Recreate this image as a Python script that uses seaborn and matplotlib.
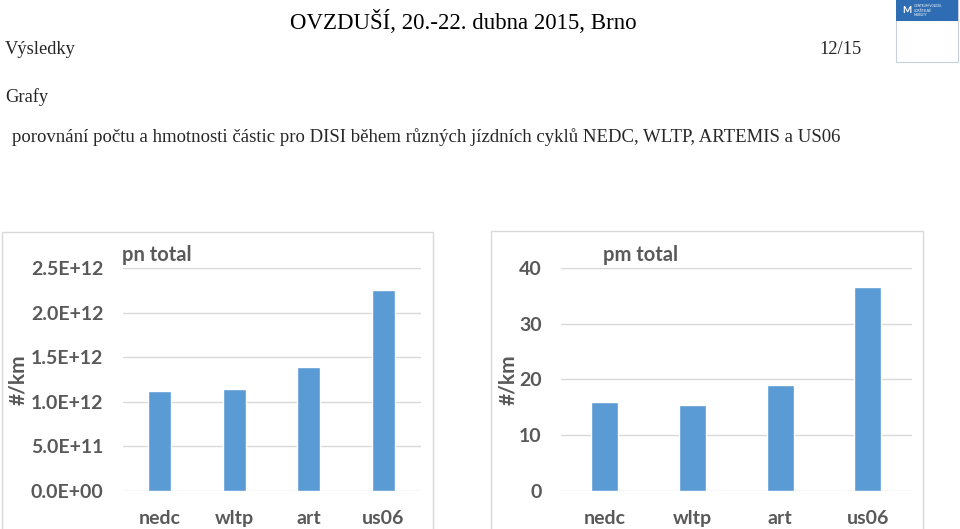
import matplotlib
matplotlib.use("Agg")
import matplotlib.pyplot as plt
import seaborn as sns
import pandas as pd
from matplotlib.patches import Rectangle
from matplotlib.ticker import FuncFormatter

categories = ["nedc", "wltp", "art", "us06"]
pn_total = [1.12e12, 1.14e12, 1.395e12, 2.255e12]
pm_total = [15.9, 15.45, 19.05, 36.6]
pn_ticks = [0, 5e11, 1e12, 1.5e12, 2e12, 2.5e12]
pm_ticks = [0, 10, 20, 30, 40]

sns.set_theme(style="white")
plt.rcParams["font.family"] = ["Lato", "DejaVu Sans"]

W, H = 960, 529
fig = plt.figure(figsize=(W / 100, H / 100), dpi=100)
fig.patch.set_facecolor("white")

def fx(px):
    return px / W

def fy(py):
    return 1 - py / H

serif = ["Liberation Serif", "DejaVu Serif"]
fig.text(fx(463), fy(22), "OVZDUŠÍ, 20.-22. dubna 2015, Brno", family=serif,
         fontsize=16.5, ha="center", va="center", color="black")
fig.text(fx(5), fy(49), "Výsledky", family=serif, fontsize=13.3, ha="left", va="center")
fig.text(fx(862), fy(49), "12/15", family=serif, fontsize=13.3, ha="right", va="center")
fig.text(fx(5), fy(97), "Grafy", family=serif, fontsize=13.3, ha="left", va="center")
fig.text(fx(12), fy(137),
         "porovnání počtu a hmotnosti částic pro DISI během různých jízdních cyklů NEDC, WLTP, ARTEMIS a US06",
         family=serif, fontsize=13.5, ha="left", va="center")

# logo
fig.patches.append(Rectangle((fx(896), fy(62)), fx(62), 62 / H, transform=fig.transFigure,
                             facecolor="white", edgecolor="#c8d0dc", lw=0.8))
fig.patches.append(Rectangle((fx(896), fy(21)), fx(62), 21 / H, transform=fig.transFigure,
                             facecolor="#2e6db4", edgecolor="none"))
fig.text(fx(907), fy(10.5), "M", fontsize=7, color="white", ha="center", va="center", weight="bold")
fig.text(fx(914), fy(10.5), "CENTRUM VOZIDEL\nUDRŽITELNÉ\nMOBILITY", fontsize=2.2, color="white",
         ha="left", va="center", linespacing=1.1)

# chart frames
for x0, x1, y0 in [(2, 433, 232), (491, 923, 231)]:
    fig.patches.append(Rectangle((fx(x0), fy(540)), fx(x1 - x0), (540 - y0) / H,
                                 transform=fig.transFigure, facecolor="none",
                                 edgecolor="#d9d9d9", lw=1.0))

bar_color = "#5b9bd5"
tick_color = "#595959"

def make_chart(left, right, vals, ticks, fmt, title, title_x, ylab_x):
    ax = fig.add_axes([fx(left), fy(490.7), fx(right - left), (490.7 - 268.3) / H])
    df = pd.DataFrame({"cycle": categories, "value": vals})
    sns.barplot(data=df, x="cycle", y="value", color=bar_color, saturation=1,
                width=0.31, ax=ax)
    ax.set_ylim(0, ticks[-1])
    ax.set_yticks(ticks)
    ax.yaxis.set_major_formatter(FuncFormatter(fmt))
    ax.grid(axis="y", color="#d9d9d9", lw=1)
    ax.set_axisbelow(True)
    for s in ax.spines.values():
        s.set_visible(False)
    ax.tick_params(axis="both", length=0, labelsize=14, colors=tick_color)
    ax.tick_params(axis="y", pad=14)
    ax.tick_params(axis="x", pad=14)
    for lab in ax.get_xticklabels() + ax.get_yticklabels():
        lab.set_fontweight("bold")
    ax.set_xlabel("")
    ax.set_ylabel("")
    ax.patch.set_alpha(0)
    fig.text(fx(title_x), fy(255), title, fontsize=14.5, color=tick_color,
             ha="left", va="center", weight="bold")
    fig.text(fx(ylab_x), fy(380), "#/km", fontsize=15, color=tick_color,
             ha="center", va="center", rotation=90, weight="bold")
    return ax

make_chart(122.7, 420.7, pn_total, pn_ticks, lambda v, p: f"{v:.1E}", "pn total", 122, 18)
make_chart(561, 911.7, pm_total, pm_ticks, lambda v, p: f"{v:.0f}", "pm total", 603, 508)

fig.savefig("out.png", dpi=100, facecolor="white")
